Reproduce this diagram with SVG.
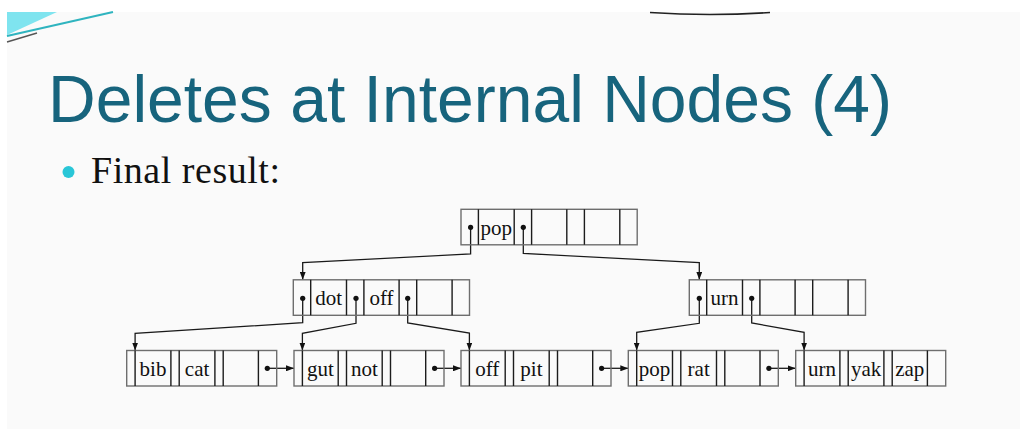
<svg xmlns="http://www.w3.org/2000/svg" xmlns:xlink="http://www.w3.org/1999/xlink" width="1033" height="429" viewBox="0 0 1033 429">
<style>
.box{fill:none;stroke:#6e6e6e;stroke-width:1.4}
.div{fill:none;stroke:#1c1c1c;stroke-width:1.4}
.key{font-family:"Liberation Serif","Times New Roman",serif;font-size:21px;fill:#111;text-anchor:middle}
.conn{fill:none;stroke:#1a1a1a;stroke-width:1.3}
</style>
<defs>
<marker id="arrow" markerUnits="userSpaceOnUse" markerWidth="8" markerHeight="6" viewBox="0 0 8 6" refX="8" refY="3" orient="auto"><path d="M0,0 L8,3 L0,6 Z" fill="#111"/></marker>
<marker id="dot" markerUnits="userSpaceOnUse" markerWidth="6" markerHeight="6" viewBox="-3 -3 6 6" refX="0" refY="0"><circle r="2.6" fill="#111"/></marker>
<g id="innerFrame">
<rect x="0" y="0" width="176.2" height="35.5" class="box"/>
<path d="M17.4 0V35.5M53.2 0V35.5M70.6 0V35.5M105.8 0V35.5M123.4 0V35.5M158.8 0V35.5" class="div"/>
</g>
<g id="leafFrame">
<rect x="0" y="0" width="150" height="35.5" class="box"/>
<path d="M8.4 0V35.5M44.2 0V35.5M52.5 0V35.5M88.2 0V35.5M96.5 0V35.5M131.7 0V35.5" class="div"/>
</g>
</defs>

<rect x="0" y="0" width="1033" height="429" fill="#ffffff"/>
<rect x="7" y="12" width="1013" height="417" fill="#fafafa"/>

<g id="decoration">
<polygon points="7,12 57,12 7,35" fill="#7fe4ef"/>
<line x1="7" y1="36" x2="113" y2="12" stroke="#2fb4bf" stroke-width="2"/>
<line x1="7" y1="42" x2="37" y2="33" stroke="#555" stroke-width="1.5"/>
<path d="M650 12.5 Q710 16.5 770 12.5" fill="none" stroke="#222" stroke-width="1.6"/>
</g>

<g id="title">
<text x="48" y="121.5" font-family="'Liberation Sans',Arial,sans-serif" font-size="66" fill="#17647d" textLength="844">Deletes at Internal Nodes (4)</text>
</g>

<g id="bullet">
<circle cx="68.5" cy="172" r="6" fill="#29c6d7"/>
<text x="91" y="183" font-family="'Liberation Serif','Times New Roman',serif" font-size="38" fill="#111" textLength="189">Final result:</text>
</g>

<g id="connectors">
<polyline class="conn" points="470.6,227.3 470.6,254 302.7,262.7 302.7,279.8" marker-start="url(#dot)" marker-end="url(#arrow)"/>
<polyline class="conn" points="523.3,227.3 523.3,253.5 699.3,262.7 699.3,279.8" marker-start="url(#dot)" marker-end="url(#arrow)"/>
<polyline class="conn" points="302.7,298.3 302.7,322.7 135.1,333.3 135.1,350.5" marker-start="url(#dot)" marker-end="url(#arrow)"/>
<polyline class="conn" points="356,298.3 356,323.3 302.4,333.3 302.4,350.5" marker-start="url(#dot)" marker-end="url(#arrow)"/>
<polyline class="conn" points="407.7,298.3 407.7,323 469.4,333 469.4,350.5" marker-start="url(#dot)" marker-end="url(#arrow)"/>
<polyline class="conn" points="699.3,298.3 699.3,323.3 636.7,332.3 636.7,350.5" marker-start="url(#dot)" marker-end="url(#arrow)"/>
<polyline class="conn" points="751.7,298.3 751.7,323 804.1,332.3 804.1,350.5" marker-start="url(#dot)" marker-end="url(#arrow)"/>
<line class="conn" x1="267.3" y1="368.3" x2="294" y2="368.3" marker-start="url(#dot)" marker-end="url(#arrow)"/>
<line class="conn" x1="434.6" y1="368.3" x2="461" y2="368.3" marker-start="url(#dot)" marker-end="url(#arrow)"/>
<line class="conn" x1="601.6" y1="368.3" x2="628.3" y2="368.3" marker-start="url(#dot)" marker-end="url(#arrow)"/>
<line class="conn" x1="768.9" y1="368.3" x2="795.7" y2="368.3" marker-start="url(#dot)" marker-end="url(#arrow)"/>
</g>

<g id="node-root" transform="translate(461,209.3)">
<use xlink:href="#innerFrame"/>
<text class="key" x="35.3" y="26.2">pop</text>
</g>

<g id="node-dot-off" transform="translate(293.3,279.8)">
<use xlink:href="#innerFrame"/>
<text class="key" x="35.3" y="25.7">dot</text>
<text class="key" x="88.2" y="25.7">off</text>
</g>

<g id="node-urn" transform="translate(689.3,279.8)">
<use xlink:href="#innerFrame"/>
<text class="key" x="35.3" y="25.7">urn</text>
</g>

<g id="leaf-bib-cat" transform="translate(126.7,350.5)">
<use xlink:href="#leafFrame"/>
<text class="key" x="26.3" y="25.5">bib</text>
<text class="key" x="70.4" y="25.5">cat</text>
</g>

<g id="leaf-gut-not" transform="translate(294,350.5)">
<use xlink:href="#leafFrame"/>
<text class="key" x="26.3" y="25.5">gut</text>
<text class="key" x="70.4" y="25.5">not</text>
</g>

<g id="leaf-off-pit" transform="translate(461,350.5)">
<use xlink:href="#leafFrame"/>
<text class="key" x="26.3" y="25.5">off</text>
<text class="key" x="70.4" y="25.5">pit</text>
</g>

<g id="leaf-pop-rat" transform="translate(628.3,350.5)">
<use xlink:href="#leafFrame"/>
<text class="key" x="26.3" y="25.5">pop</text>
<text class="key" x="70.4" y="25.5">rat</text>
</g>

<g id="leaf-urn-yak-zap" transform="translate(795.7,350.5)">
<use xlink:href="#leafFrame"/>
<text class="key" x="26.3" y="25.5">urn</text>
<text class="key" x="70.4" y="25.5">yak</text>
<text class="key" x="114.1" y="25.5">zap</text>
</g>
</svg>
